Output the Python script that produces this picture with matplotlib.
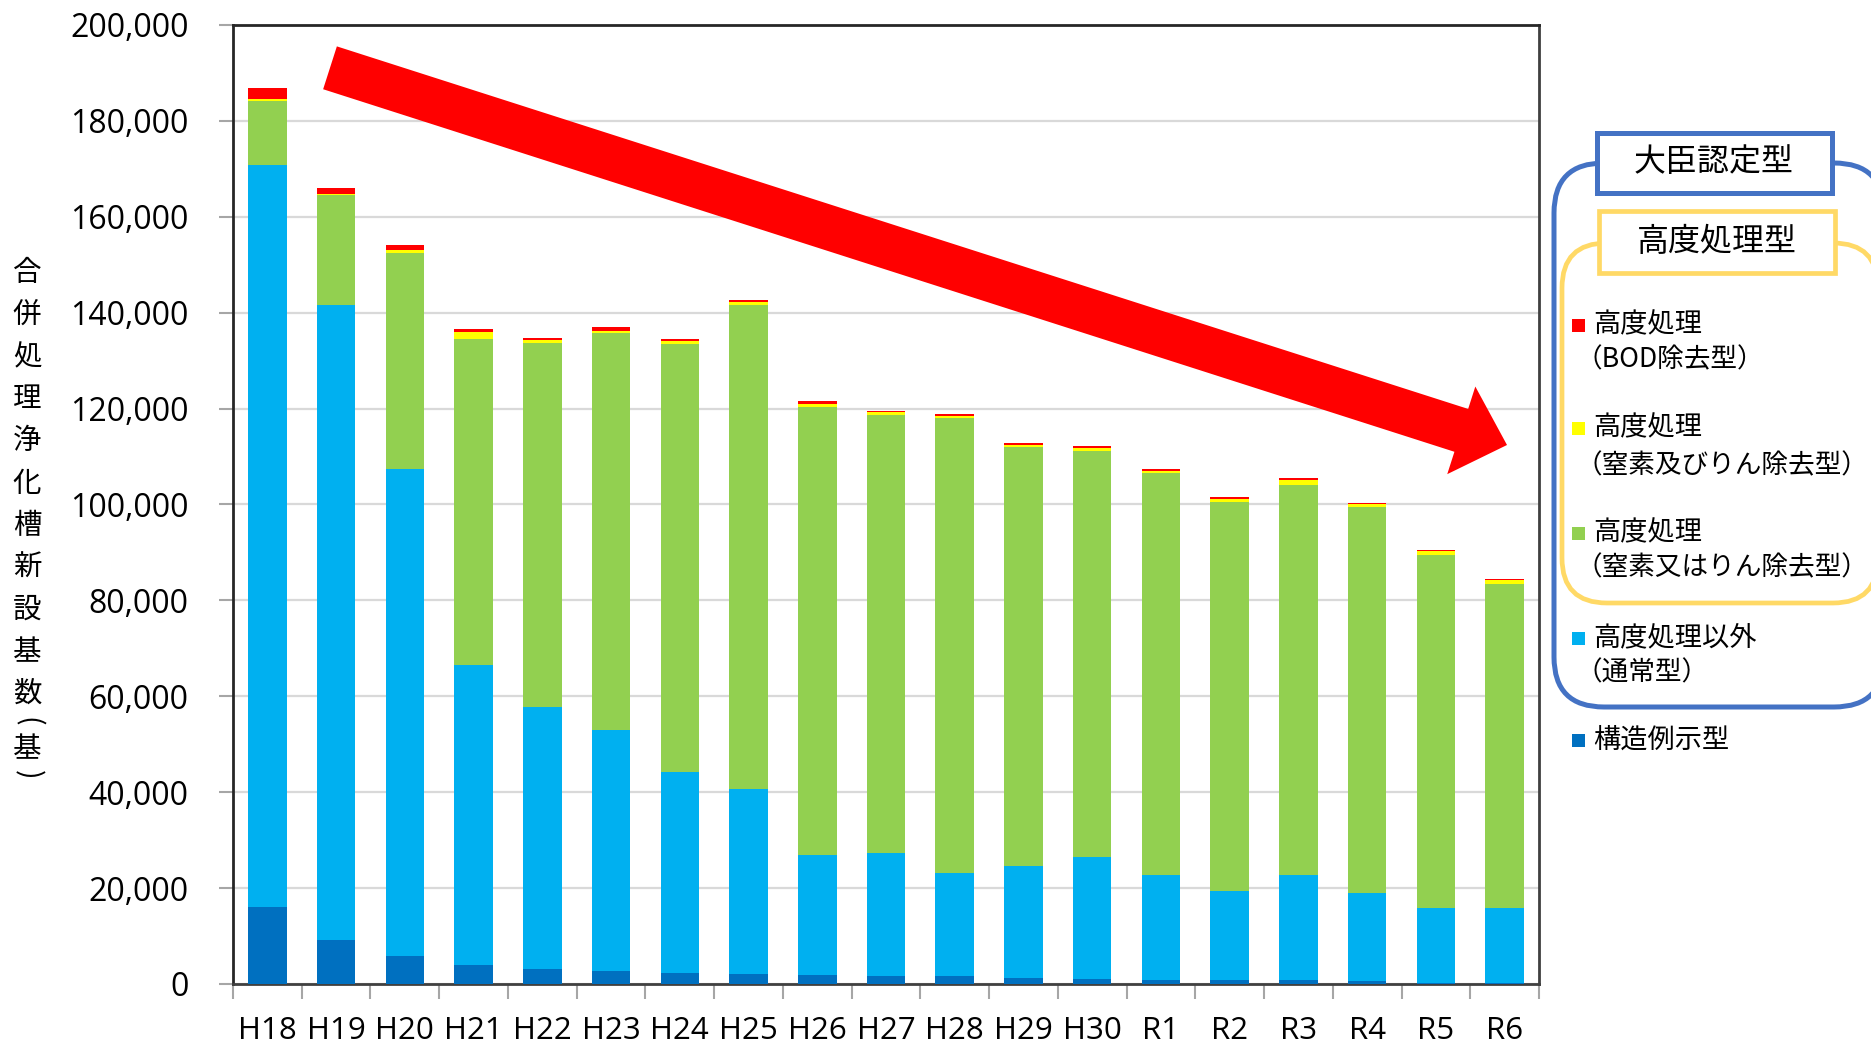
import matplotlib
matplotlib.use('Agg')
import matplotlib.pyplot as plt
from matplotlib.patches import FancyArrow, FancyBboxPatch, Rectangle
import numpy as np

# ---------------- data ----------------
categories = ["H18", "H19", "H20", "H21", "H22", "H23", "H24", "H25", "H26", "H27",
              "H28", "H29", "H30", "R1", "R2", "R3", "R4", "R5", "R6"]
kozo_reiji = [16100, 9100, 5900, 4000, 3050, 2650, 2300, 2000, 1900, 1600,
              1600, 1250, 1000, 900, 900, 800, 600, 300, 300]
tsujo = [154600, 132500, 101500, 62600, 54650, 50250, 41900, 38700, 25100, 25700,
         21600, 23450, 25500, 21900, 18400, 21900, 18300, 15500, 15500]
chisso_mata_rin = [13500, 22900, 45050, 67900, 75900, 82900, 89300, 100900, 93400, 91350,
                   94800, 87200, 84700, 83700, 81200, 81450, 80500, 73700, 67600]
chisso_oyobi_rin = [300, 200, 550, 1500, 700, 400, 500, 700, 600, 550,
                    400, 600, 500, 400, 700, 900, 700, 800, 800]
bod = [2400, 1400, 1050, 700, 500, 800, 500, 400, 500, 400,
       400, 350, 500, 500, 350, 400, 300, 300, 300]
y_ticks = list(range(0, 200001, 20000))
ylabel_main = "合併処理浄化槽新設基数"
ylabel_unit = "基"

series = [kozo_reiji, tsujo, chisso_mata_rin, chisso_oyobi_rin, bod]
colors = ["#0070C0", "#00B0F0", "#92D050", "#FFFF00", "#FF0000"]

plt.rcParams['font.family'] = ['Open Sans', 'Noto Sans CJK JP', 'DejaVu Sans']
CJK = ['Noto Sans CJK JP', 'DejaVu Sans']

W, H = 1871, 1044
fig = plt.figure(figsize=(W / 100, H / 100), dpi=100)
fig.patch.set_facecolor('white')
ax = fig.add_axes([233 / W, 1 - 984 / H, (1539 - 233) / W, (984 - 25) / H])

x = np.arange(len(categories))
bottom = np.zeros(len(categories))
for vals, c in zip(series, colors):
    v = np.array(vals, dtype=float)
    ax.bar(x, v, bottom=bottom, width=0.56, color=c, edgecolor='none', zorder=3)
    bottom += v

ax.set_xlim(-0.5, len(categories) - 0.5)
ax.set_ylim(0, 200000)
ax.set_yticks(y_ticks)
ax.set_yticklabels([f"{v:,}" for v in y_ticks])
ax.yaxis.grid(True, color='#D9D9D9', lw=1.6, zorder=0)
ax.set_axisbelow(True)
ax.tick_params(axis='y', length=10, width=1.5, color='#A6A6A6', pad=22, labelsize=23,
               labelcolor='#000000')

ax.set_xticks(x)
ax.set_xticklabels(categories)
ax.set_xticks(np.arange(-0.5, len(categories)), minor=True)
ax.tick_params(axis='x', which='major', length=0, pad=23, labelsize=22.5)
ax.tick_params(axis='x', which='minor', length=11, width=1.5, color='#A6A6A6')

for side in ['left', 'top']:
    ax.spines[side].set_color('#262626')
    ax.spines[side].set_linewidth(2)
for side in ['right', 'bottom']:
    ax.spines[side].set_color('#404040')
    ax.spines[side].set_linewidth(2)

T = fig.dpi_scale_trans


def P(xp, yp):
    return (xp / 100, (H - yp) / 100)


# ---------- y-axis label (vertical, stacked characters) ----------
y0, step = 273, 42.1
for i, ch in enumerate(ylabel_main):
    fig.text(*P(27, y0 + i * step), ch, transform=T, ha='center', va='center',
             fontsize=20.5, family=CJK)
fig.text(*P(27, 722), "(", transform=T, ha='center', va='center',
         fontsize=20.5, family=CJK, rotation=-90)
fig.text(*P(27, 749), ylabel_unit, transform=T, ha='center', va='center',
         fontsize=20.5, family=CJK)
fig.text(*P(27, 775), ")", transform=T, ha='center', va='center',
         fontsize=20.5, family=CJK, rotation=-90)

# ---------- big red arrow ----------
tail = np.array([330, 67.8])
tip = np.array([1507, 445])
d = tip - tail
arrow = FancyArrow(tail[0] / 100, (H - tail[1]) / 100, d[0] / 100, -d[1] / 100,
                   width=45 / 100, head_width=92 / 100, head_length=48 / 100,
                   length_includes_head=True, transform=T, color='#FF0000',
                   linewidth=0, zorder=10)
fig.add_artist(arrow)

# ---------- custom legend ----------
blue_edge = '#4472C4'
yel_edge = '#FFD966'
outer = FancyBboxPatch(P(1554, 707), (1884 - 1554) / 100, (707 - 163) / 100,
                       boxstyle="round,pad=0,rounding_size=0.5", transform=T,
                       facecolor='white', edgecolor=blue_edge, linewidth=3.6, zorder=5)
fig.add_artist(outer)
inner = FancyBboxPatch(P(1562, 603), (1878 - 1562) / 100, (603 - 243) / 100,
                       boxstyle="round,pad=0,rounding_size=0.45", transform=T,
                       facecolor='white', edgecolor=yel_edge, linewidth=3.4, zorder=6)
fig.add_artist(inner)

lb1 = Rectangle(P(1597, 193), (1832 - 1597) / 100, (193 - 133) / 100, transform=T,
                facecolor='white', edgecolor=blue_edge, linewidth=3.6, zorder=7)
fig.add_artist(lb1)
fig.text(*P(1714, 162), "大臣認定型", transform=T, ha='center', va='center',
         fontsize=23, family=CJK, zorder=8)
lb2 = Rectangle(P(1599, 273), (1835 - 1599) / 100, (273 - 211) / 100, transform=T,
                facecolor='white', edgecolor=yel_edge, linewidth=3.4, zorder=7)
fig.add_artist(lb2)
fig.text(*P(1717, 242), "高度処理型", transform=T, ha='center', va='center',
         fontsize=23, family=CJK, zorder=8)

legend_items = [
    ("#FF0000", "高度処理", "（BOD除去型）", 325, 360),
    ("#FFFF00", "高度処理", "（窒素及びりん除去型）", 428, 466),
    ("#92D050", "高度処理", "（窒素又はりん除去型）", 533, 568),
    ("#00B0F0", "高度処理以外", "（通常型）", 638, 673),
    ("#0070C0", "構造例示型", None, 740, None),
]
for col, l1, l2, ya, yb in legend_items:
    sq = Rectangle(P(1572, ya + 6.5), 13 / 100, 13 / 100, transform=T,
                   facecolor=col, edgecolor='none', zorder=9)
    fig.add_artist(sq)
    fig.text(*P(1593, ya), l1, transform=T, ha='left', va='center',
             fontsize=19.6, family=CJK, zorder=9)
    if l2:
        fig.text(*P(1575, yb), l2, transform=T, ha='left', va='center',
                 fontsize=19.2, family=CJK, zorder=9)

fig.savefig("out.png", dpi=100, facecolor='white')
